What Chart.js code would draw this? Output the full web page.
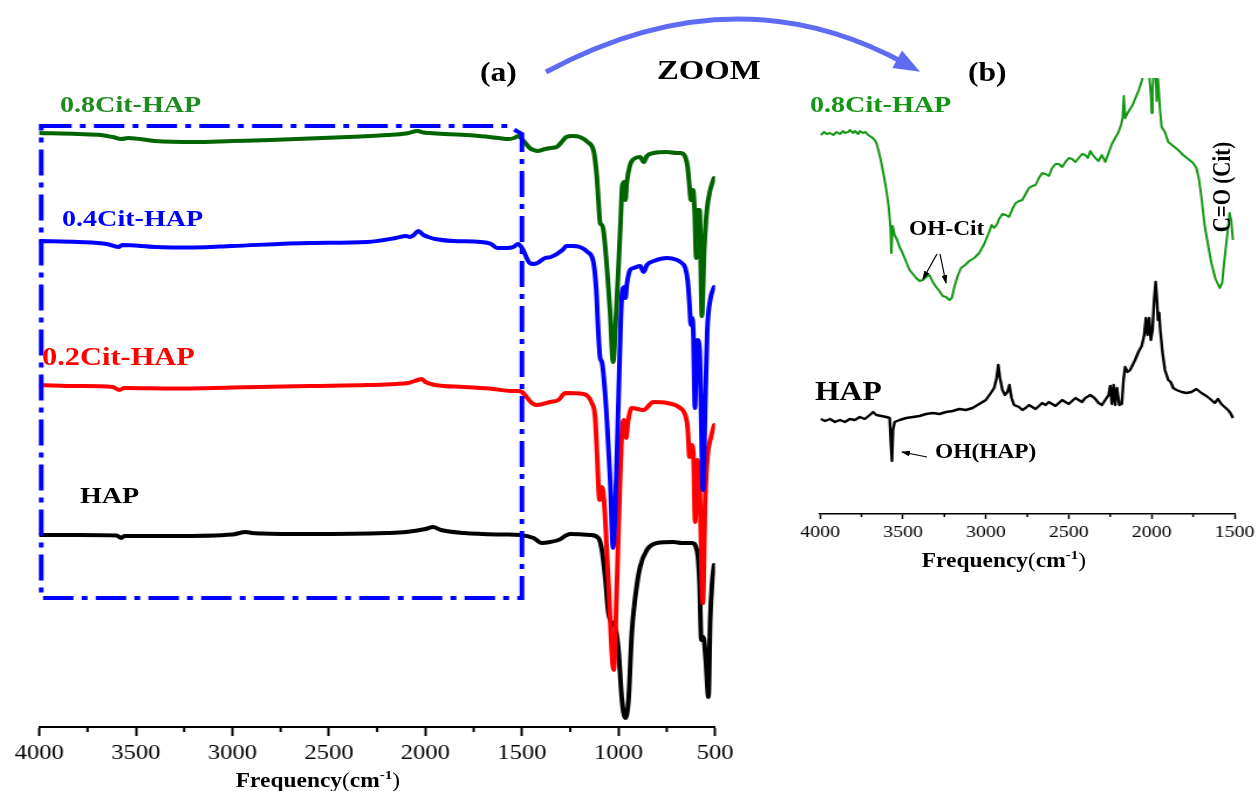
<!DOCTYPE html>
<html>
<head>
<meta charset="utf-8">
<script src="https://cdn.jsdelivr.net/npm/chart.js@4.4.1/dist/chart.umd.min.js"></script>
<style>
  html, body { margin: 0; padding: 0; background: #fff; }
  #stage { position: relative; width: 1258px; height: 791px; overflow: hidden;
           font-family: 'Liberation Serif', 'Times New Roman', serif; font-weight: bold; }
  canvas { position: absolute; top: 0; }
  svg { position: absolute; left: 0; top: 0; }
  .lbl { position: absolute; white-space: nowrap; line-height: 1;
         transform-origin: 0 50%; transform: scaleX(1.17); }
  .ttl { position: absolute; white-space: nowrap; line-height: 1; font-size: 20px;
         transform: translateX(-50%) scaleX(1.17); }
  .ttl .p { font-weight: normal; }
  .ttl sup { font-size: 13px; vertical-align: 8px; line-height: 0; }
  .rot { position: absolute; white-space: nowrap; line-height: 1; font-size: 21px;
         transform: translate(-50%, -50%) scaleX(1.17) rotate(-90deg); }
</style>
</head>
<body>
<div id="stage">
  <canvas id="panelA" width="632" height="791" style="left:0;width:740px;height:791px"></canvas>
  <canvas id="panelB" width="408" height="560" style="left:780px;width:478px;height:560px"></canvas>

  <svg width="1258" height="791" viewBox="0 0 1258 791">
    <defs>
      <marker id="tip" markerWidth="9" markerHeight="6" refX="8" refY="3" orient="auto" markerUnits="userSpaceOnUse">
        <path d="M0,0 L9,3 L0,6 z" fill="#000"/>
      </marker>
    </defs>
    <!-- zoom arrow between the panels -->
    <path d="M546,72 Q735,-30 906,64" fill="none" stroke="#5d6cf3" stroke-width="5"/>
    <polygon points="920,71.7 892.4,68 902,50.4" fill="#5d6cf3"/>
    <!-- pointers for the band labels -->
    <line x1="937" y1="254" x2="923" y2="279" stroke="#000" stroke-width="1.2" marker-end="url(#tip)"/>
    <line x1="940" y1="254" x2="946" y2="283" stroke="#000" stroke-width="1.2" marker-end="url(#tip)"/>
    <line x1="927" y1="457" x2="902" y2="452" stroke="#000" stroke-width="1.2" marker-end="url(#tip)"/>
  </svg>

  <div class="lbl" style="left:480px;top:59px;font-size:27px">(a)</div>
  <div class="lbl" style="left:657px;top:56px;font-size:28px">ZOOM</div>
  <div class="lbl" style="left:968px;top:59px;font-size:27px">(b)</div>

  <div class="lbl" style="left:60px;top:92px;font-size:24px;color:#1f8b1f">0.8Cit-HAP</div>
  <div class="lbl" style="left:62px;top:206px;font-size:24px;color:#0000ff">0.4Cit-HAP</div>
  <div class="lbl" style="left:42px;top:344px;font-size:26px;color:#ff0000">0.2Cit-HAP</div>
  <div class="lbl" style="left:80px;top:483px;font-size:24px;color:#000">HAP</div>

  <div class="lbl" style="left:810px;top:92px;font-size:24px;color:#139613">0.8Cit-HAP</div>
  <div class="lbl" style="left:815px;top:378px;font-size:27px;color:#000">HAP</div>
  <div class="lbl" style="left:909px;top:218px;font-size:20px">OH-Cit</div>
  <div class="lbl" style="left:935px;top:441px;font-size:20px">OH(HAP)</div>
  <div class="rot" style="left:1222px;top:187px">C=O (Cit)</div>

  <div class="ttl" style="left:318px;top:770px">Frequency<span class="p">(</span>cm<sup>-1</sup><span class="p">)</span></div>
  <div class="ttl" style="left:1004px;top:550px">Frequency<span class="p">(</span>cm<sup>-1</sup><span class="p">)</span></div>
</div>

<script>
// ---- (a) full spectra, transmittance in a.u. (stacked) ----
const hapA_wn = [4000,3800,3600,3575,3560,3300,3000,2930,2900,2850,2600,2200,2100,2000,1960,1920,1800,1600,1509,1440,1397,1354,1311,1250,1147,1104,1086,1069,1052,1034,1017,1000,982,965,948,931,913,888,853,801,715,672,620,594,580,571,560,548,534,525,515,505];
const hapA_t = [19.2,19.2,19.15,18.9,19.1,19.1,19.25,19.5,19.4,19.35,19.3,19.4,19.5,19.8,20.0,19.7,19.4,19.25,19.2,18.9,18.4,18.5,18.7,19.3,19.2,18.9,17.7,15.0,11.4,10.4,10.0,7.7,2.7,0.9,2.7,9.4,13.0,16.0,17.7,18.4,18.5,18.4,18.4,17.7,14.4,8.7,9.0,6.7,3.0,10.7,14.4,16.2];

const cit02A_wn = [4000,3800,3620,3585,3560,3300,3000,2600,2300,2150,2090,2040,2020,2000,1950,1800,1650,1560,1526,1500,1449,1423,1354,1311,1276,1181,1138,1121,1112,1098,1086,1074,1052,1025,1008,995,982,971,960,951,931,871,819,749,680,654,642,632,620,611,603,591,580,563,551,539,521,504];
const cit02A_t = [34.2,34.1,34.0,33.7,33.9,33.85,33.95,34.1,34.2,34.3,34.4,34.7,34.8,34.5,34.2,34.0,33.8,33.6,33.6,33.5,32.4,32.2,32.5,32.7,33.4,33.3,32.4,31.0,27.7,22.7,24.0,22.4,14.4,5.7,14.4,22.7,29.4,30.7,28.9,30.5,31.9,31.7,32.5,32.4,31.9,31.2,30.0,27.0,28.2,26.7,20.5,26.7,24.4,12.4,22.7,27.0,29.0,30.2];

const cit04A_wn = [4000,3800,3650,3590,3570,3400,3200,3000,2600,2300,2155,2100,2080,2060,2037,2010,1985,1950,1856,1716,1660,1628,1580,1545,1520,1500,1460,1440,1420,1380,1350,1290,1270,1240,1200,1160,1130,1115,1105,1095,1086,1075,1060,1043,1028,1012,1000,988,981,971,964,957,940,921,888,869,853,817,749,697,680,654,642,632,625,618,612,604,597,590,580,562,550,540,525,505];
const cit04A_t = [48.6,48.5,48.3,48.0,48.2,48.0,47.95,48.1,48.4,48.5,48.9,49.1,49.0,49.2,49.6,49.2,49.0,48.8,48.6,48.5,48.3,47.9,47.9,48.0,48.3,47.9,46.4,46.3,46.4,46.9,47.0,47.7,48.1,48.1,48.0,47.5,46.5,43.7,39.7,36.9,36.5,34.7,30.7,24.7,17.9,24.7,32.7,40.7,43.5,44.0,42.9,44.2,45.7,45.9,46.1,45.5,46.2,46.6,46.9,46.7,46.5,45.9,44.7,42.2,40.2,40.9,39.2,31.9,36.7,38.7,37.7,23.7,32.7,39.7,42.7,44.0];

const cit08A_wn = [4000,3800,3680,3620,3575,3540,3400,3200,3000,2800,2600,2400,2200,2100,2040,2010,1980,1900,1750,1620,1570,1540,1520,1500,1460,1440,1420,1380,1350,1320,1290,1270,1240,1200,1160,1130,1121,1112,1104,1095,1086,1078,1060,1043,1028,1012,1000,988,981,971,964,957,940,921,888,869,853,817,749,697,680,654,642,632,625,620,614,606,597,590,580,568,556,542,525,505];
const cit08A_t = [59.4,59.3,59.2,59.0,58.8,58.9,58.6,58.5,58.6,58.7,58.85,59.0,59.2,59.35,59.6,59.45,59.4,59.3,59.15,58.9,58.8,58.9,59.1,58.8,57.9,57.7,57.6,57.8,57.9,58.0,58.6,59.0,59.1,59.0,58.5,57.7,56.7,55.0,52.7,50.4,50.2,49.7,46.0,41.4,36.5,41.4,46.0,51.0,54.0,54.5,52.7,54.4,56.2,56.8,57.0,56.5,57.1,57.4,57.5,57.4,57.4,57.0,56.0,54.0,52.7,53.5,53.7,51.7,46.9,51.7,51.7,41.1,47.7,51.7,53.7,54.9];

// ---- (b) 4000-1500 region ----
const hapB_wn = [3995,3970,3940,3910,3880,3850,3820,3790,3760,3730,3700,3680,3660,3630,3600,3580,3572,3566,3560,3550,3520,3480,3440,3400,3360,3320,3280,3240,3200,3160,3120,3080,3040,3000,2970,2950,2935,2925,2915,2900,2885,2870,2858,2845,2830,2800,2780,2760,2740,2720,2700,2680,2660,2640,2620,2600,2580,2560,2540,2520,2500,2480,2460,2440,2420,2400,2370,2345,2320,2300,2280,2260,2250,2240,2230,2220,2210,2195,2180,2170,2160,2145,2130,2115,2100,2080,2060,2045,2035,2025,2015,2005,1995,1985,1976,1968,1962,1955,1948,1935,1920,1900,1885,1870,1850,1820,1790,1760,1730,1700,1670,1640,1620,1600,1580,1560,1540,1525,1510];
const hapB_t = [9.5,9.3,9.5,9.2,9.4,9.2,9.5,9.4,9.7,9.5,9.9,10.2,9.9,9.8,9.7,9.6,6.9,5.3,8.4,9.2,9.4,9.6,9.7,9.8,10.0,10.1,10.0,10.2,10.3,10.5,10.4,10.6,11.0,11.4,12.1,12.6,13.6,14.9,13.6,12.4,11.9,12.2,12.9,11.6,10.9,10.7,10.4,10.6,10.9,10.7,10.5,10.8,11.1,10.9,11.2,11.0,10.8,11.1,11.4,11.2,11.0,11.3,11.6,11.4,11.2,11.6,11.9,11.6,11.1,10.9,11.4,11.9,12.8,11.0,12.9,10.9,12.6,10.9,11.0,13.4,14.7,14.2,14.4,14.9,15.4,16.2,16.8,17.9,19.6,17.9,19.6,17.4,18.4,21.4,23.2,21.4,19.4,20.1,18.4,16.2,14.4,13.4,13.2,12.6,12.4,12.2,12.1,12.2,12.5,12.1,11.8,11.4,11.1,11.5,11.0,10.7,10.4,10.1,9.6];

const cit08B_wn = [3995,3975,3960,3940,3920,3900,3880,3860,3850,3830,3820,3800,3790,3770,3760,3740,3725,3710,3690,3675,3660,3645,3630,3615,3600,3585,3575,3570,3562,3550,3535,3520,3505,3490,3475,3460,3440,3420,3400,3380,3360,3340,3320,3300,3280,3260,3240,3220,3205,3190,3170,3150,3125,3100,3070,3040,3010,2980,2965,2950,2935,2920,2900,2880,2860,2840,2820,2800,2780,2760,2740,2720,2700,2680,2660,2640,2620,2600,2580,2560,2540,2520,2500,2480,2460,2440,2420,2400,2385,2370,2355,2340,2320,2300,2280,2260,2240,2220,2200,2185,2175,2168,2160,2145,2130,2115,2100,2080,2060,2040,2020,2005,2000,1995,1985,1975,1970,1962,1950,1940,1920,1900,1885,1870,1855,1840,1810,1780,1750,1730,1715,1700,1680,1660,1640,1615,1590,1575,1560,1545,1530,1520,1510];
const cit08B_t = [37.9,38.2,38.0,38.1,37.9,38.2,38.0,38.3,38.1,38.2,38.4,38.1,38.3,38.0,38.3,38.1,38.2,37.9,37.7,37.5,37.1,36.2,35.1,33.8,32.4,30.6,28.6,26.1,28.8,27.9,27.4,26.7,26.2,25.6,25.0,24.4,24.0,23.6,23.3,23.4,23.7,23.9,23.2,22.7,22.3,21.8,21.7,21.4,21.6,22.7,23.8,24.6,24.9,25.3,25.6,26.1,27.0,28.2,28.9,28.6,28.9,29.5,30.0,29.9,29.7,30.5,31.1,31.3,31.4,32.0,32.6,32.8,32.9,33.6,34.1,34.0,33.8,34.6,35.0,35.0,34.7,35.2,35.6,35.5,35.2,35.6,36.0,35.9,35.6,36.3,35.9,35.6,35.3,35.9,35.2,36.1,37.0,37.6,38.2,38.9,39.6,41.8,39.6,40.1,40.5,40.9,41.5,42.3,43.3,44.5,44.8,42.0,40.1,42.5,44.5,44.0,41.3,43.5,40.5,38.7,38.2,37.2,37.0,36.8,36.6,36.4,35.9,35.5,35.1,34.6,33.5,31.7,28.8,26.9,25.1,23.5,22.6,23.1,25.6,27.8,30.1,29.3,27.4];

// axis ticks
const majorTicksA = [4000,3500,3000,2500,2000,1500,1000,500];
const minorTicksA = [3750,3250,2750,2250,1750,1250,750];
const majorTicksB = [4000,3500,3000,2500,2000,1500];
const minorTicksB = [3750,3250,2750,2250,1750];

// dash-dot frame marking the zoomed region in (a)
const zoomRangeA = [3990, 1500];
const zoomLevelsA = [12.9, 60.1];

function toPoints(wn, t) {
  return wn.map((w, i) => ({ x: w, y: t[i] }));
}

function series(wn, t, color, width) {
  return { data: toPoints(wn, t), borderColor: color, borderWidth: width, pointRadius: 0, fill: false };
}

// short unlabeled ticks between the labelled ones
const minorTicks = {
  id: 'minorTicks',
  afterDraw(chart, args, opts) {
    const { ctx, chartArea } = chart;
    const x = chart.scales.x;
    ctx.save();
    ctx.strokeStyle = '#000';
    ctx.lineWidth = opts.width;
    for (const v of opts.values) {
      const px = x.getPixelForValue(v);
      ctx.beginPath();
      ctx.moveTo(px, chartArea.bottom);
      ctx.lineTo(px, chartArea.bottom + opts.length);
      ctx.stroke();
    }
    ctx.restore();
  }
};

const zoomFrame = {
  id: 'zoomFrame',
  afterDatasetsDraw(chart, args, opts) {
    if (!opts.range) return;
    const { ctx } = chart;
    const { x, y } = chart.scales;
    const l = x.getPixelForValue(opts.range[0]);
    const r = x.getPixelForValue(opts.range[1]);
    const top = y.getPixelForValue(opts.levels[1]);
    const bot = y.getPixelForValue(opts.levels[0]);
    ctx.save();
    ctx.strokeStyle = '#0000ff';
    ctx.lineWidth = 4;
    ctx.setLineDash([26, 7, 5, 7]);
    ctx.beginPath();
    ctx.moveTo(l, top);
    ctx.lineTo(r - 12, top);
    ctx.lineTo(r, top + 8);
    ctx.lineTo(r, bot);
    ctx.lineTo(l, bot);
    ctx.closePath();
    ctx.stroke();
    ctx.restore();
  }
};

function makePanel(canvasId, p) {
  const canvas = document.getElementById(canvasId);
  // the canvas is stretched horizontally by css, pixel targets are divided by it
  const sx = parseFloat(canvas.style.width) / canvas.width;
  const left = parseFloat(canvas.style.left);
  return new Chart(canvas, {
    type: 'line',
    data: { datasets: p.datasets },
    options: {
      responsive: false,
      animation: false,
      events: [],
      layout: {
        padding: {
          left: (p.plotLeft - left) / sx,
          right: (left + parseFloat(canvas.style.width) - p.plotRight) / sx,
          top: p.plotTop,
          bottom: canvas.height - p.plotBottom - p.axisHeight
        }
      },
      elements: { line: p.line },
      plugins: {
        legend: { display: false },
        tooltip: { enabled: false },
        minorTicks: { values: p.minor, length: p.minorLen, width: p.tickWidth },
        zoomFrame: p.frame || {}
      },
      scales: {
        x: {
          type: 'linear',
          reverse: true,
          min: p.xMin,
          max: p.xMax,
          afterBuildTicks: s => { s.ticks = p.major.map(v => ({ value: v })); },
          afterFit: s => { s.height = p.axisHeight; },
          ticks: {
            autoSkip: false,
            maxRotation: 0,
            padding: p.tickPad,
            color: '#000',
            font: { family: 'Liberation Serif', size: p.tickFont },
            callback: v => String(v)
          },
          grid: { drawOnChartArea: false, drawTicks: true, tickLength: p.majorLen, tickWidth: p.tickWidth, tickColor: '#000' },
          border: { display: true, color: '#000', width: p.tickWidth }
        },
        y: { display: false, min: 0, max: p.yMax }
      }
    },
    plugins: [minorTicks, zoomFrame]
  });
}

makePanel('panelA', {
  datasets: [
    series(cit08A_wn, cit08A_t, '#006400', 4),
    series(cit04A_wn, cit04A_t, '#0000ff', 4),
    series(cit02A_wn, cit02A_t, '#ff0000', 4),
    series(hapA_wn, hapA_t, '#000000', 4)
  ],
  line: { cubicInterpolationMode: 'monotone', borderCapStyle: 'round', borderJoinStyle: 'round' },
  plotLeft: 39.3, plotRight: 715, plotTop: 77, plotBottom: 727, axisHeight: 40,
  xMin: 500, xMax: 4000, yMax: 65,
  major: majorTicksA, minor: minorTicksA,
  majorLen: 9, minorLen: 5, tickWidth: 2, tickFont: 21, tickPad: 5,
  frame: { range: zoomRangeA, levels: zoomLevelsA }
});

makePanel('panelB', {
  datasets: [
    series(cit08B_wn, cit08B_t, '#139613', 2),
    series(hapB_wn, hapB_t, '#000000', 2.4)
  ],
  line: { tension: 0, borderJoinStyle: 'round' },
  plotLeft: 820, plotRight: 1237, plotTop: 78, plotBottom: 514, axisHeight: 30,
  xMin: 1500, xMax: 4000, yMax: 43.6,
  major: majorTicksB, minor: minorTicksB,
  majorLen: 5, minorLen: 3, tickWidth: 1.5, tickFont: 17, tickPad: 3
});
</script>
</body>
</html>
